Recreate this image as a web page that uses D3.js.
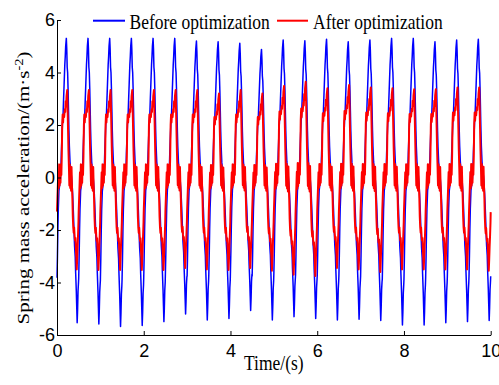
<!DOCTYPE html>
<html>
<head>
<meta charset="utf-8">
<script src="https://cdn.jsdelivr.net/npm/d3@7"></script>
<style>
  body { margin: 0; background: #fff; }
  svg { display: block; }
  .tick text { font-family: "Liberation Sans", Arial, sans-serif; font-size: 18px; fill: #000; }
  .serif { font-family: "Liberation Serif", "Times New Roman", serif; font-size: 17.5px; fill: #000; }
</style>
</head>
<body>
<div id="chart"></div>
<script>
const xTicks = [0, 2, 4, 6, 8, 10];
const yTicks = [-6, -4, -2, 0, 2, 4, 6];
const seriesNames = ['Before optimization', 'After optimization'];
const period = 0.5;
const cycleCount = 20;

// one 0.5 s cycle (nominal amplitudes)
const blueTime = [0, 0.01, 0.02, 0.03, 0.045, 0.06, 0.075, 0.09, 0.1, 0.115, 0.13, 0.14, 0.15, 0.165, 0.18, 0.19, 0.2, 0.215, 0.225, 0.235, 0.245, 0.255, 0.265, 0.275, 0.285, 0.3, 0.315, 0.33, 0.345, 0.36, 0.375, 0.39, 0.405, 0.42, 0.43, 0.445, 0.455, 0.465, 0.475, 0.485, 0.495];
const blueShape = [-3.8, -3.0, -2.0, -1.2, -0.5, -0.3, -0.1, 0.3, 0.9, 1.6, 2.2, 2.4, 2.9, 3.6, 4.3, 4.6, 5.0, 5.3, 4.9, 4.2, 4.0, 3.4, 2.6, 1.8, 1.2, 0.6, 0.3, 0.1, -0.2, -0.6, -1.2, -1.9, -2.6, -3.0, -3.6, -4.3, -4.9, -5.5, -5.0, -4.3, -4.0];
const redTime = [0, 0.01, 0.02, 0.03, 0.04, 0.05, 0.06, 0.07, 0.08, 0.09, 0.1, 0.11, 0.12, 0.13, 0.14, 0.15, 0.165, 0.18, 0.19, 0.2, 0.21, 0.22, 0.235, 0.245, 0.255, 0.265, 0.275, 0.285, 0.295, 0.305, 0.315, 0.325, 0.335, 0.345, 0.355, 0.365, 0.375, 0.385, 0.395, 0.405, 0.415, 0.425, 0.435, 0.445, 0.455, 0.465, 0.475, 0.485, 0.495];
const redShape = [-1.3, -0.8, -0.3, 0.2, -0.4, 0.5, -0.3, 0.4, -0.2, 0.5, 0.1, 0.8, 2.0, 2.4, 2.1, 2.4, 2.3, 2.6, 2.5, 2.9, 2.7, 3.1, 3.33, 2.6, 1.8, 1.0, 0.4, -0.3, 0.5, -0.4, 0.3, -0.5, 0.4, -0.3, -0.8, -1.5, -1.9, -2.1, -1.9, -2.2, -2.4, -2.3, -2.7, -3.0, -3.5, -3.1, -2.6, -2.2, -1.7];

// peak / trough of every cycle
const bluePeaks = [5.3, 5.3, 5.3, 5.3, 5.3, 5.3, 5.2, 5.17, 5.11, 4.88, 5.24, 5.21, 5.27, 5.17, 5.24, 5.3, 5.3, 5.17, 5.24, 5.27];
const blueTroughs = [-5.53, -5.58, -5.68, -5.64, -5.49, -5.2, -5.43, -5.37, -5.07, -5.43, -5.3, -5.37, -5.43, -5.4, -5.45, -5.62, -5.62, -5.53, -5.49, -5.45];
const redPeaks = [3.33, 3.33, 3.33, 3.33, 3.33, 3.33, 3.33, 3.2, 3.33, 3.2, 3.49, 3.65, 3.4, 3.52, 3.43, 3.4, 3.36, 3.36, 3.43, 3.43];
const redTroughs = [-3.5, -3.52, -3.52, -3.52, -3.52, -3.45, -3.5, -3.52, -3.45, -3.55, -3.7, -3.75, -3.45, -3.5, -3.6, -3.5, -3.5, -3.5, -3.5, -3.55];

const W = 499, H = 385;
const plotLeft = 57, plotRight = 490.7, plotTop = 20, plotBottom = 335;

const buildSeries = (times, shape, peaks, troughs) => {
  const refPeak = d3.max(shape), refTrough = d3.min(shape);
  const pts = [];
  for (let k = 0; k < cycleCount; k++) {
    times.forEach((t, i) => {
      const v = shape[i];
      pts.push([k * period + t, v >= 0 ? v * peaks[k] / refPeak : v * troughs[k] / refTrough]);
    });
  }
  pts.push([cycleCount * period, shape[0] * troughs[cycleCount - 1] / refTrough]);
  return pts;
};

const blueData = buildSeries(blueTime, blueShape, bluePeaks, blueTroughs);
const redData = buildSeries(redTime, redShape, redPeaks, redTroughs);

const svg = d3.select('#chart').append('svg').attr('width', W).attr('height', H);

const x = d3.scaleLinear().domain([0, 10]).range([plotLeft, plotRight]);
const y = d3.scaleLinear().domain([-6, 6]).range([plotBottom, plotTop]);

const line = d3.line().x((d) => x(d[0])).y((d) => y(d[1]));

svg.append('path').datum(blueData)
  .attr('fill', 'none').attr('stroke', '#0000ff').attr('stroke-width', 1.5)
  .attr('stroke-linejoin', 'round').attr('d', line);
svg.append('path').datum(redData)
  .attr('fill', 'none').attr('stroke', '#ff0000').attr('stroke-width', 2)
  .attr('stroke-linejoin', 'round').attr('d', line);

const xAxis = svg.append('g').attr('transform', `translate(0,${plotBottom})`)
  .call(d3.axisBottom(x).tickValues(xTicks).tickSizeInner(-4).tickSizeOuter(0).tickPadding(9).tickFormat((d) => String(d)));
const yAxis = svg.append('g').attr('transform', `translate(${plotLeft},0)`)
  .call(d3.axisLeft(y).tickValues(yTicks).tickSizeInner(-4).tickSizeOuter(0).tickPadding(2).tickFormat((d) => String(d)));
[xAxis, yAxis].forEach((g) => {
  g.select('.domain').attr('stroke', '#000');
  g.selectAll('.tick line').attr('stroke', '#000');
});

// axis titles
svg.append('text').attr('class', 'serif')
  .attr('transform', `translate(${(plotLeft + plotRight) / 2},370) scale(1,1.2)`)
  .attr('text-anchor', 'middle').text('Time/(s)');

const yTitle = svg.append('text').attr('class', 'serif')
  .attr('font-size', '18px')
  .attr('transform', 'translate(29,188) rotate(-90) scale(1.2,1)')
  .attr('text-anchor', 'middle');
yTitle.append('tspan').text('Spring mass acceleration/(m·s');
yTitle.append('tspan').attr('dy', -6).attr('font-size', '12px').text('-2');
yTitle.append('tspan').attr('dy', 6).text(')');

// legend
const legend = [
  { name: seriesNames[0], color: '#0000ff', x0: 93, x1: 125, tx: 129.5 },
  { name: seriesNames[1], color: '#ff0000', x0: 277, x1: 308, tx: 313 },
];
legend.forEach((l) => {
  svg.append('line').attr('x1', l.x0).attr('x2', l.x1).attr('y1', 20.7).attr('y2', 20.7)
    .attr('stroke', l.color).attr('stroke-width', 2);
  svg.append('text').attr('class', 'serif')
    .attr('transform', `translate(${l.tx},29.3) scale(1,1.2)`).text(l.name);
});
</script>
</body>
</html>
